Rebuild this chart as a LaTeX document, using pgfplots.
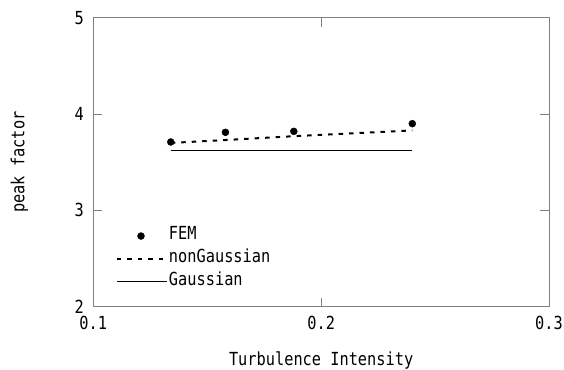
\documentclass[border=0pt]{standalone}
\usepackage{pgfplots}
\pgfplotsset{compat=1.18}
\usepackage{fontspec}
\newfontfamily\gfont[FakeStretch=0.85]{DejaVu Sans Mono}
\pgfplotsset{
  linelegend/.style={legend image code/.code={\draw[##1] (0pt,0pt) -- (50pt,0pt);}},
  dotlegend/.style={legend image code/.code={\draw[##1] plot coordinates {(24pt,0pt)};}},
}
\begin{document}
\begin{tikzpicture}
\path[use as bounding box] (0pt,0pt) rectangle (564pt,369pt);
\begin{axis}[
  at={(93.3pt,62.3pt)}, anchor=south west,
  scale only axis, width=455.7pt, height=289pt,
  xmin=0.1, xmax=0.3, ymin=2, ymax=5,
  xtick={0.1,0.2,0.3}, xticklabels={0.1,0.2,0.3},
  ytick={2,3,4,5}, yticklabels={2,3,4,5},
  tick align=inside, major tick length=9pt,
  axis line style={draw=gray, line width=0.9pt},
  tick style={draw=gray, line width=0.9pt},
  font=\gfont\fontsize{18}{20}\selectfont,
  /pgf/number format/assume math mode=true,
  xticklabel style={anchor=base, yshift=-22.3pt},
  yticklabel style={xshift=-6pt},
  xlabel={Turbulence Intensity},
  ylabel={peak factor},
  xlabel style={at={(axis description cs:0.5,-0.205)}, anchor=base},
  ylabel style={at={(axis description cs:-0.162,0.5)}, anchor=center},
  legend style={draw=none, fill=none, inner sep=0pt, outer sep=0pt,
    at={(axis description cs:0.0498,0.268)}, anchor=north west,
    row sep=9pt, column sep=1pt,
    nodes={inner sep=0pt, text height=10.6pt, text depth=3pt}},
  legend cell align=left,
  linelegend,
]
\addplot[only marks, mark=*, mark size=3.5pt, black, dotlegend]
  coordinates {(0.134,3.71) (0.158,3.81) (0.188,3.82) (0.240,3.90)};
\addlegendentry{FEM}
\addplot[black, line width=2pt, dash pattern=on 4.5pt off 6pt, mark=none]
  coordinates {(0.134,3.70) (0.158,3.73) (0.188,3.77) (0.240,3.83)};
\addlegendentry{nonGaussian}
\addplot[black, line width=1.4pt, mark=none]
  coordinates {(0.134,3.62) (0.240,3.62)};
\addlegendentry{Gaussian}
\end{axis}
\end{tikzpicture}
\end{document}
